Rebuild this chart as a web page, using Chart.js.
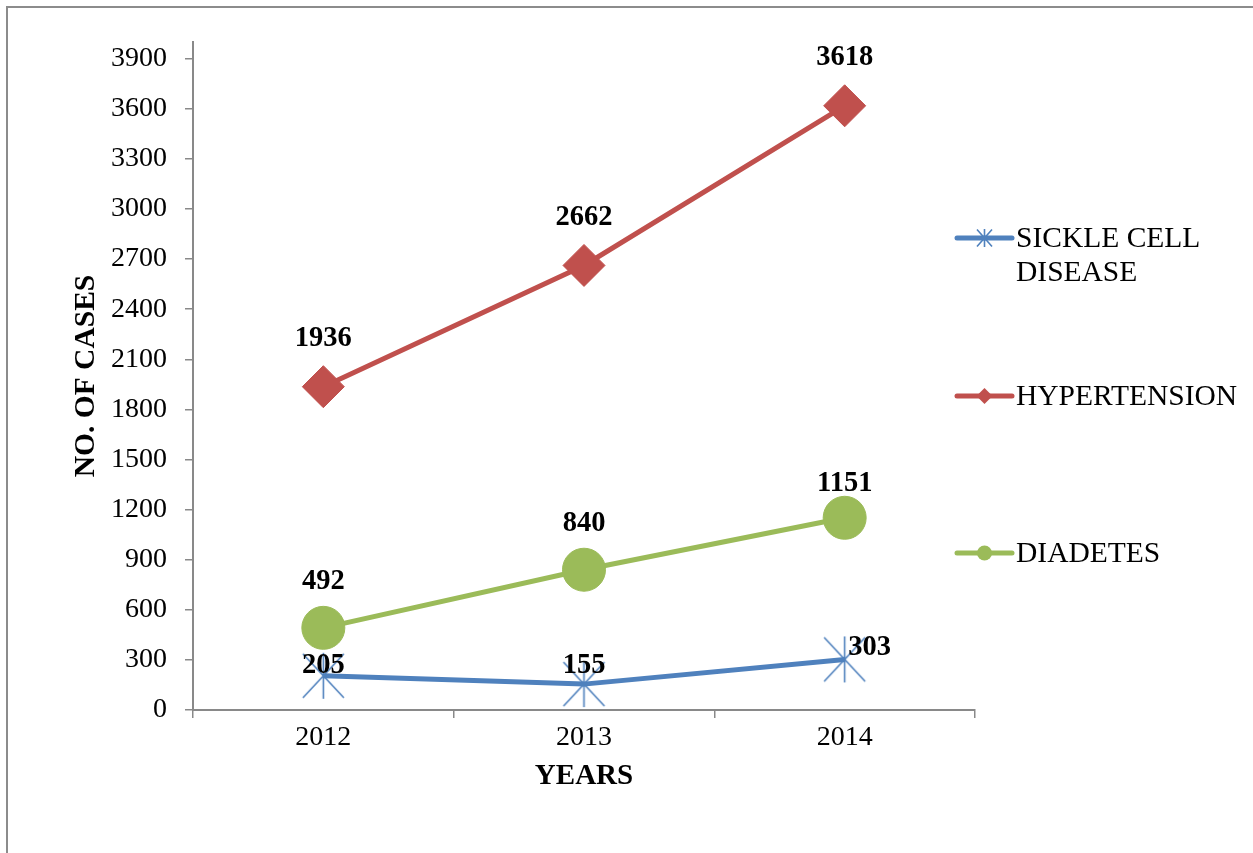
<!DOCTYPE html>
<html>
<head>
<meta charset="utf-8">
<script src="https://cdn.jsdelivr.net/npm/chart.js@4.4.0/dist/chart.umd.min.js"></script>
<style>
  html, body { margin: 0; padding: 0; background: #fff; }
  canvas { display: block; }
</style>
</head>
<body>
<canvas id="c" width="1253" height="853"></canvas>
<script>
// ---- data ----
const years = ['2012', '2013', '2014'];
const sickleCell = [205, 155, 303];
const hypertension = [1936, 2662, 3618];
const diabetes = [492, 840, 1151];
const seriesNames = ['SICKLE CELL DISEASE', 'HYPERTENSION', 'DIADETES'];
const yTickValues = [0, 300, 600, 900, 1200, 1500, 1800, 2100, 2400, 2700, 3000, 3300, 3600, 3900];
const yMax = 4000;

// ---- styles ----
const SERIF = '"Liberation Serif", "Times New Roman", serif';
const BLUE = '#4F81BD';
const RED = '#C0504D';
const GREEN = '#9BBB59';
const AXIS = '#898989';

// Asterisk-style marker: an X crossed by a vertical stroke
function starMarker(dx, dy, vy, color, lw) {
  const w = Math.ceil(2 * dx + 4), h = Math.ceil(2 * vy + 4);
  const c = document.createElement('canvas');
  c.width = w; c.height = h;
  const g = c.getContext('2d');
  const cx = w / 2, cy = h / 2;
  g.strokeStyle = color;
  g.lineWidth = lw;
  g.beginPath();
  g.moveTo(cx - dx, cy - dy); g.lineTo(cx + dx, cy + dy);
  g.moveTo(cx + dx, cy - dy); g.lineTo(cx - dx, cy + dy);
  g.moveTo(cx, cy - vy); g.lineTo(cx, cy + vy);
  g.stroke();
  return c;
}
const bigStar = starMarker(20.5, 22, 23, BLUE, 1.6);
const smallStar = starMarker(7.5, 8.5, 9, BLUE, 1.6);

// Outer frame of the chart box
const framePlugin = {
  id: 'frame',
  beforeDraw(chart) {
    const ctx = chart.ctx;
    ctx.save();
    ctx.strokeStyle = '#8c8c8c';
    ctx.lineWidth = 2;
    ctx.strokeRect(7, 7, chart.width + 20, chart.height + 20);
    ctx.restore();
  }
};

// Bold value labels above each point
const valueLabelPlugin = {
  id: 'valueLabels',
  afterDatasetsDraw(chart, args, opts) {
    const ctx = chart.ctx;
    ctx.save();
    ctx.font = 'bold 28.5px ' + SERIF;
    ctx.fillStyle = '#000';
    ctx.textAlign = 'center';
    ctx.textBaseline = 'middle';
    chart.data.datasets.forEach((ds, di) => {
      const meta = chart.getDatasetMeta(di);
      meta.data.forEach((pt, i) => {
        const off = (opts.offsets[di] || [])[i] || [0, -48];
        ctx.fillText(String(ds.data[i]), pt.x + off[0], pt.y + off[1] + 1);
      });
    });
    ctx.restore();
  }
};

// Legend drawn at the right, with word-wrapped labels
const sideLegendPlugin = {
  id: 'sideLegend',
  afterDraw(chart, args, opts) {
    const ctx = chart.ctx;
    ctx.save();
    ctx.font = '29.5px ' + SERIF;
    ctx.textBaseline = 'middle';
    ctx.textAlign = 'left';
    chart.data.datasets.forEach((ds, i) => {
      const y = opts.rows[i];
      const x0 = opts.lineStart, x1 = opts.lineEnd, xm = (x0 + x1) / 2;
      ctx.strokeStyle = ds.borderColor;
      ctx.lineWidth = 5;
      ctx.lineCap = 'round';
      ctx.beginPath(); ctx.moveTo(x0, y); ctx.lineTo(x1, y); ctx.stroke();
      ctx.fillStyle = ds.borderColor;
      if (ds.pointStyle === 'rectRot') {
        const r = 8;
        ctx.beginPath();
        ctx.moveTo(xm - r, y); ctx.lineTo(xm, y - r); ctx.lineTo(xm + r, y); ctx.lineTo(xm, y + r);
        ctx.closePath(); ctx.fill();
      } else if (ds.pointStyle === 'circle') {
        ctx.beginPath(); ctx.arc(xm, y, 7.5, 0, Math.PI * 2); ctx.fill();
      } else {
        ctx.drawImage(smallStar, xm - smallStar.width / 2, y - smallStar.height / 2);
      }
      // wrap the label into lines that fit the legend width
      const words = ds.label.split(' ');
      const lines = [];
      let cur = '';
      words.forEach(w => {
        const t = cur ? cur + ' ' + w : w;
        if (ctx.measureText(t).width > opts.maxWidth && cur) { lines.push(cur); cur = w; }
        else cur = t;
      });
      if (cur) lines.push(cur);
      ctx.fillStyle = '#000';
      lines.forEach((ln, k) => ctx.fillText(ln, opts.textX, y + 1 + k * opts.lineGap));
    });
    ctx.restore();
  }
};

new Chart(document.getElementById('c').getContext('2d'), {
  type: 'line',
  data: {
    labels: years,
    datasets: [
      { label: seriesNames[0], data: sickleCell, borderColor: BLUE, backgroundColor: BLUE,
        borderWidth: 5, tension: 0, pointStyle: bigStar, pointRadius: 23, pointHoverRadius: 23, order: 3 },
      { label: seriesNames[1], data: hypertension, borderColor: RED, backgroundColor: RED,
        borderWidth: 5, tension: 0, pointStyle: 'rectRot', pointRadius: 21, pointHoverRadius: 21, pointBorderWidth: 1, order: 2 },
      { label: seriesNames[2], data: diabetes, borderColor: GREEN, backgroundColor: GREEN,
        borderWidth: 5, tension: 0, pointStyle: 'circle', pointRadius: 21.5, pointHoverRadius: 21.5, pointBorderWidth: 1, order: 1 }
    ]
  },
  options: {
    responsive: false,
    animation: false,
    events: [],
    layout: { padding: { left: 69, right: 278, top: 42, bottom: 59 } },
    plugins: {
      legend: { display: false },
      tooltip: { enabled: false },
      valueLabels: {
        offsets: [
          [[0, -11], [0, -19], [25, -13]],
          [[0, -49], [0, -49], [0, -49]],
          [[0, -47], [0, -47], [0, -35]]
        ]
      },
      sideLegend: { rows: [238, 396, 553], lineStart: 957, lineEnd: 1012, textX: 1016, maxWidth: 230, lineGap: 34 }
    },
    scales: {
      x: {
        offset: true,
        grid: { offset: true, drawOnChartArea: false, drawTicks: true, tickLength: 8, color: AXIS, lineWidth: 1.5 },
        border: { color: AXIS, width: 2 },
        ticks: { font: { family: SERIF, size: 28 }, color: '#000', padding: 3, maxRotation: 0 },
        title: { display: true, text: 'YEARS', color: '#000', padding: 0,
                 font: { family: SERIF, size: 29, weight: 'bold' } },
        afterFit(scale) { scale.height = 84; }
      },
      y: {
        min: 0,
        max: yMax,
        afterBuildTicks(scale) { scale.ticks = yTickValues.map(v => ({ value: v })); },
        grid: { drawOnChartArea: false, drawTicks: true, tickLength: 8, color: AXIS, lineWidth: 1.5 },
        border: { color: AXIS, width: 2 },
        ticks: { font: { family: SERIF, size: 28 }, color: '#000', padding: 18,
                 callback: v => String(v) },
        title: { display: true, text: 'NO. OF CASES', color: '#000', padding: 0,
                 font: { family: SERIF, size: 29.5, weight: 'bold' } },
        afterFit(scale) { scale.width = 124; }
      }
    }
  },
  plugins: [framePlugin, valueLabelPlugin, sideLegendPlugin]
});
</script>
</body>
</html>
